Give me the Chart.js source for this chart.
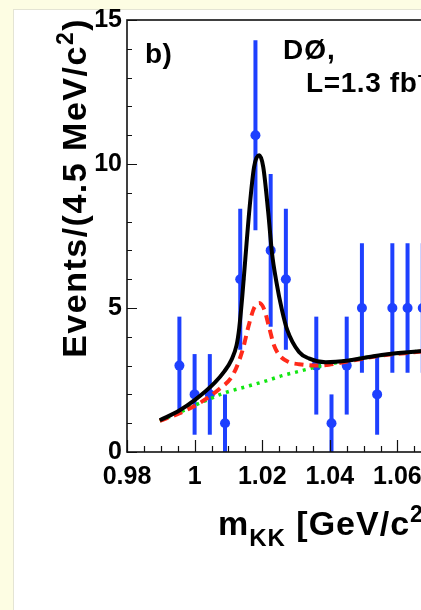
<!DOCTYPE html>
<html>
<head>
<meta charset="utf-8">
<script src="https://cdn.jsdelivr.net/npm/chart.js@4.4.1/dist/chart.umd.min.js"></script>
<style>
  html, body { margin: 0; padding: 0; width: 421px; height: 610px; overflow: hidden; background: #fdfde3; }
  #panel { position: absolute; left: 13px; top: 9px; width: 600px; height: 700px; background: #fff;
           border-left: 1px solid #e4e4d4; border-top: 1px solid #e4e4d4; }
  #massChart { position: absolute; left: 0; top: 0; }
</style>
</head>
<body>
<div id="panel"></div>
<canvas id="massChart" width="560" height="610"></canvas>
<script>
// histogram: 4.5 MeV bins
var binCenters = [0.9955, 1.0000, 1.0045, 1.0090, 1.0135, 1.0180, 1.0225, 1.0270, 1.0315,
                  1.0360, 1.0405, 1.0450, 1.0495, 1.0540, 1.0585, 1.0630, 1.0675];
var counts = [3, 2, 2, 1, 6, 11, 7, 6, null, 3, 1, 3, 5, 2, 5, 5, 5];
var countErrors = [1.7, 1.4, 1.4, 1.0, 2.45, 3.3, 2.65, 2.45, null, 1.7, 1.0, 1.7, 2.25, 1.4, 2.25, 2.25, 2.25];

// total fit (black)
var fitMass = [0.9897, 0.9956, 1.0000, 1.0059, 1.0088, 1.0109, 1.0124, 1.0132, 1.0141, 1.0150, 1.0162,
               1.0176, 1.0191, 1.0203, 1.0218, 1.0229, 1.0241, 1.0259, 1.0274, 1.0309, 1.0338,
               1.0388, 1.0456, 1.0553, 1.0665, 1.0680];
var fitValues = [1.1, 1.45, 1.8, 2.4, 2.8, 3.2, 3.7, 4.3, 5.4, 6.7, 8.4,
                 9.9, 10.3, 9.9, 8.3, 6.9, 5.97, 4.9, 4.24, 3.47, 3.25,
                 3.12, 3.18, 3.37, 3.5, 3.51];

// red dashed component
var redMass = [0.9897, 0.9956, 1.0015, 1.0074, 1.0112, 1.0141, 1.0162, 1.0176, 1.0191, 1.0206,
               1.0221, 1.0235, 1.0250, 1.0279, 1.0309, 1.0359, 1.0397, 1.0456, 1.0553, 1.0665, 1.0680];
var redValues = [1.08, 1.35, 1.7, 2.2, 2.65, 3.5, 4.48, 5.0, 5.17, 4.95,
                 4.3, 3.7, 3.37, 3.12, 3.05, 3.0, 3.03, 3.15, 3.35, 3.48, 3.5];

// green dotted background
var bkgMass = [0.9897, 0.9956, 1.0000, 1.0044, 1.0088, 1.0162, 1.0212, 1.0259, 1.0309,
               1.0359, 1.0406, 1.0506, 1.0665, 1.0680];
var bkgValues = [1.08, 1.38, 1.62, 1.84, 2.05, 2.3, 2.47, 2.65, 2.8,
                 2.95, 3.07, 3.28, 3.5, 3.52];

var xTicks = [0.98, 1.00, 1.02, 1.04, 1.06, 1.08, 1.10];
var xTickLabels = ["0.98", "1", "1.02", "1.04", "1.06", "1.08", "1.1"];
var yTicks = [0, 5, 10, 15];

var FONT = "'Liberation Sans', Arial, Helvetica, sans-serif";

function pts(xs, ys) {
    return xs.map(function (x, i) { return { x: x, y: ys[i] }; });
}

function drawRuns(ctx, runs, x, y) {
    runs.forEach(function (r) {
        ctx.font = "bold " + r.size + "px " + FONT;
        ctx.fillText(r.t, x, y + (r.dy || 0));
        x += ctx.measureText(r.t).width;
    });
}
function runsWidth(ctx, runs) {
    var w = 0;
    runs.forEach(function (r) {
        ctx.font = "bold " + r.size + "px " + FONT;
        w += ctx.measureText(r.t).width;
    });
    return w;
}
function spacing(ctx, s) {
    if ("letterSpacing" in ctx) ctx.letterSpacing = s;
}

var errorBars = {
    id: "errorBars",
    beforeDatasetsDraw: function (chart) {
        var ctx = chart.ctx, xs = chart.scales.x, ys = chart.scales.y;
        ctx.save();
        ctx.strokeStyle = "#1e40ff";
        ctx.lineWidth = 4;
        binCenters.forEach(function (m, i) {
            if (counts[i] == null) return;
            var px = xs.getPixelForValue(m);
            ctx.beginPath();
            ctx.moveTo(px, ys.getPixelForValue(Math.max(0, counts[i] - countErrors[i])));
            ctx.lineTo(px, ys.getPixelForValue(counts[i] + countErrors[i]));
            ctx.stroke();
        });
        ctx.restore();
    }
};

var frameAndText = {
    id: "frameAndText",
    afterDatasetsDraw: function (chart) {
        var ctx = chart.ctx, a = chart.chartArea, xs = chart.scales.x, ys = chart.scales.y;
        ctx.save();
        // inward ticks
        ctx.strokeStyle = "#111";
        ctx.lineWidth = 1.2;
        ctx.beginPath();
        for (var i = 0; i <= 24; i++) {
            var px = Math.round(xs.getPixelForValue(0.98 + i * 0.005)) + 0.5;
            var len = i % 4 === 0 ? 12 : 6;
            ctx.moveTo(px, a.bottom);
            ctx.lineTo(px, a.bottom - len);
        }
        for (var j = 0; j <= 15; j++) {
            var py = Math.round(ys.getPixelForValue(j)) + 0.5;
            var l2 = j % 5 === 0 ? 10 : 5;
            ctx.moveTo(a.left, py);
            ctx.lineTo(a.left + l2, py);
        }
        ctx.stroke();
        // frame
        ctx.lineWidth = 1.6;
        ctx.strokeRect(a.left, a.top, a.right - a.left, a.bottom - a.top);

        ctx.fillStyle = "#000";
        ctx.textBaseline = "alphabetic";
        ctx.textAlign = "left";
        spacing(ctx, "0.5px");
        drawRuns(ctx, [{ t: "b)", size: 28 }], 145, 63);
        spacing(ctx, "1px");
        drawRuns(ctx, [{ t: "DØ,", size: 28 }], 283, 59);
        spacing(ctx, "0.6px");
        drawRuns(ctx, [{ t: "L=1.3 fb", size: 28 }, { t: "-1", size: 17, dy: -12 }], 306, 92);

        // x title
        spacing(ctx, "1px");
        drawRuns(ctx, [{ t: "m", size: 34 }, { t: "KK", size: 24, dy: 11 }, { t: " [GeV/c", size: 34 },
                       { t: "2", size: 23, dy: -13 }, { t: "]", size: 34 }], 218, 535);

        // y title, rotated, right aligned at the top
        spacing(ctx, "1.5px");
        var yRuns = [{ t: "Events/(4.5 MeV/c", size: 34 }, { t: "2", size: 23, dy: -13 }, { t: ")", size: 34 }];
        var w = runsWidth(ctx, yRuns);
        ctx.translate(86, 18 + w);
        ctx.rotate(-Math.PI / 2);
        drawRuns(ctx, yRuns, 0, 0);
        ctx.restore();
    }
};

new Chart("massChart", {
    type: "line",
    data: {
        datasets: [{
            label: "total fit",
            data: pts(fitMass, fitValues),
            borderColor: "#000",
            borderWidth: 4,
            pointRadius: 0,
            cubicInterpolationMode: "monotone",
            order: 1
        }, {
            label: "signal",
            data: pts(redMass, redValues),
            borderColor: "#ff2a1a",
            borderWidth: 4,
            borderDash: [9, 6],
            pointRadius: 0,
            cubicInterpolationMode: "monotone",
            order: 2
        }, {
            label: "background",
            data: pts(bkgMass, bkgValues),
            borderColor: "#12e612",
            borderWidth: 3.5,
            borderDash: [3, 5],
            pointRadius: 0,
            cubicInterpolationMode: "monotone",
            order: 3
        }, {
            label: "data",
            data: pts(binCenters, counts),
            showLine: false,
            pointRadius: 5,
            pointBackgroundColor: "#1e40ff",
            pointBorderColor: "#1e40ff",
            pointBorderWidth: 0,
            order: 4
        }]
    },
    options: {
        responsive: false,
        animation: false,
        layout: { padding: { left: 0, top: 20, right: 25, bottom: 0 } },
        plugins: {
            legend: { display: false },
            tooltip: { enabled: false }
        },
        scales: {
            x: {
                type: "linear",
                min: 0.98,
                max: 1.10,
                grid: { display: false, drawTicks: false },
                border: { display: false },
                afterBuildTicks: function (s) { s.ticks = xTicks.map(function (v) { return { value: v }; }); },
                afterFit: function (s) { s.height = 158; },
                ticks: {
                    autoSkip: false,
                    maxRotation: 0,
                    padding: 10,
                    color: "#000",
                    font: { family: FONT, size: 25, weight: "bold" },
                    callback: function (v, i) { return xTickLabels[i]; }
                }
            },
            y: {
                min: 0,
                max: 15,
                grid: { display: false, drawTicks: false },
                border: { display: false },
                afterBuildTicks: function (s) { s.ticks = yTicks.map(function (v) { return { value: v }; }); },
                afterFit: function (s) { s.width = 127; },
                ticks: {
                    padding: 5,
                    color: "#000",
                    font: { family: FONT, size: 25, weight: "bold" }
                }
            }
        }
    },
    plugins: [errorBars, frameAndText]
});
</script>
</body>
</html>
